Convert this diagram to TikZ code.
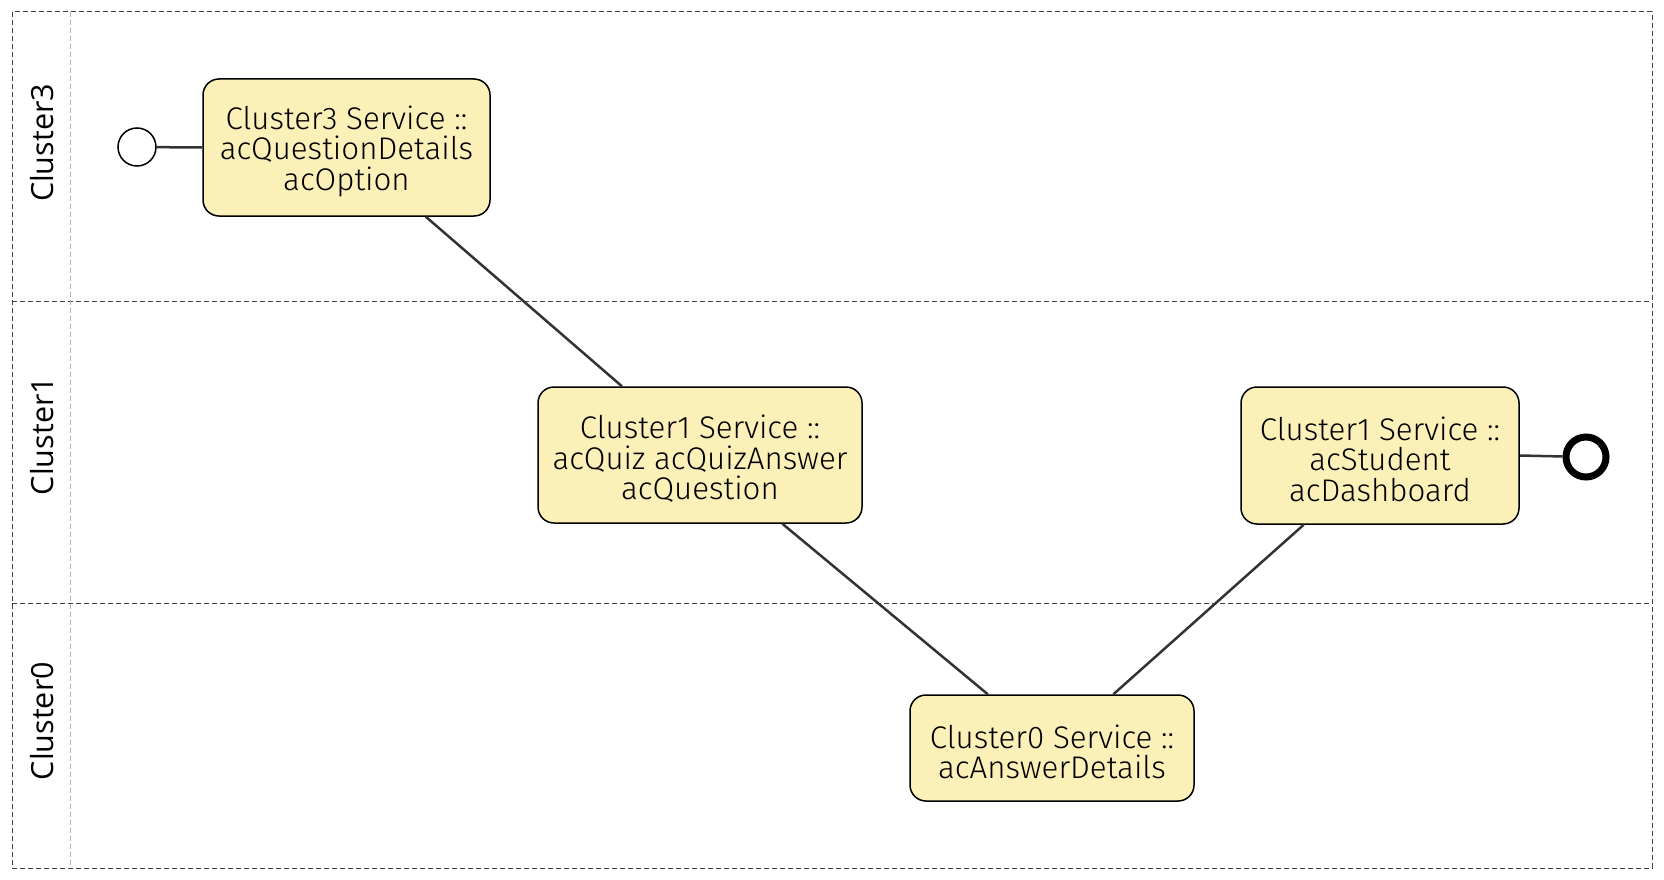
\documentclass[tikz,border=0pt]{standalone}
\usepackage{fontspec}
\setmainfont{Fira Sans Light}
\newfontfamily\lanefont{Open Sans}
\usetikzlibrary{calc}
\definecolor{nodefill}{HTML}{FCF0B9}
\definecolor{edgecol}{HTML}{333333}
\newcommand{\topstrut}{\rule{0pt}{31pt}}
\begin{document}
\begin{tikzpicture}[x=1pt,y=-1pt,
  svc/.style={draw=black,line width=1.5pt,fill=nodefill,rounded corners=16pt,
    minimum width=#1,align=center,inner sep=0pt,
    font=\fontsize{31.3}{30.6}\selectfont},
  svc/.default=280pt,
  lane/.style={font=\lanefont\fontsize{30.5}{31}\selectfont,rotate=90,inner sep=0pt},
  conn/.style={draw=edgecol,line width=2.5pt},
  border/.style={draw=black!75,dashed,line width=1pt,dash pattern=on 5pt off 3pt},
  hdr/.style={draw=black!30,dashed,line width=1pt,dash pattern=on 5pt off 3pt},
  startev/.style={circle,draw=black,line width=1.5pt,fill=white,minimum size=38pt,inner sep=0pt},
  endev/.style={circle,draw=black,line width=7pt,fill=white,minimum size=40pt,inner sep=0pt}]
\useasboundingbox (0,0) rectangle (1664,880);
% lanes
\draw[border] (12,12) rectangle (1652,868);
\draw[border] (12,301) -- (1652,301);
\draw[border] (12,603) -- (1652,603);
\draw[hdr] (70,12) -- (70,868);
\node[lane] (l3) at (42,143) {Cluster3};
\node[lane] (l1) at (42,436) {Cluster1};
\node[lane] (l0) at (42,721) {Cluster0};
% nodes
\node[svc=287pt,minimum height=137pt] (c3) at (346.5,147.5) {\topstrut Cluster3 Service ::\\acQuestionDetails\\acOption};
\node[svc=324pt,minimum height=136pt] (c1a) at (700,455) {\topstrut Cluster1 Service ::\\acQuiz acQuizAnswer\\acQuestion};
\node[svc=278pt,minimum height=137pt] (c1b) at (1380,455.5) {\topstrut Cluster1 Service ::\\acStudent\\acDashboard};
\node[svc=284pt,minimum height=106pt] (c0) at (1052,748) {\topstrut Cluster0 Service ::\\acAnswerDetails};
\node[startev] (start) at (137,147) {};
\node[endev] (end) at (1586,457) {};
% connectors
\draw[conn] (start) -- (c3.west);
\draw[conn] (c1b.east) -- (end);
\draw[conn] ($(c3.south west)!0.775!(c3.south east)$) -- ($(c1a.north west)!0.26!(c1a.north east)$);
\draw[conn] ($(c1a.south west)!0.753!(c1a.south east)$) -- ($(c0.north west)!0.275!(c0.north east)$);
\draw[conn] ($(c1b.south west)!0.227!(c1b.south east)$) -- ($(c0.north west)!0.715!(c0.north east)$);
\end{tikzpicture}
\end{document}
